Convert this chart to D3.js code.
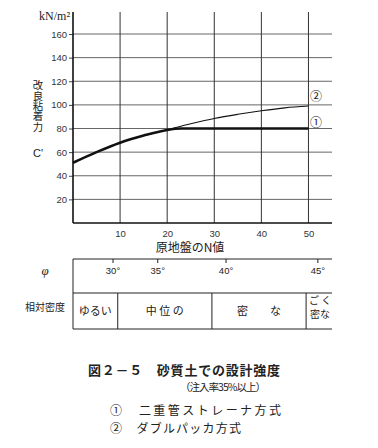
<!DOCTYPE html>
<html><head><meta charset="utf-8">
<script src="https://cdn.jsdelivr.net/npm/d3@7"></script>
<style>
body{margin:0;background:#fff;}
svg{display:block;}
text{font-family:"Noto Sans CJK JP","Noto Sans",sans-serif;fill:#222;}
.num{font-family:"Liberation Sans",Arial,sans-serif;}
</style></head>
<body>
<script>
// ---- data ----
const nValues = [0, 5, 10, 15, 20, 25, 30, 35, 40, 45, 50];
const doublePacker = [51, 60, 68, 74, 79, 84, 88.5, 92, 95, 97.5, 99];      // ②
const nValuesStrainer = [0, 5, 10, 15, 20, 23, 30, 40, 50];
const doubleStrainer = [51, 60, 68, 74, 78.8, 80, 80, 80, 80];            // ①
const xTicks = [10, 20, 30, 40, 50];
const yTicks = [20, 40, 60, 80, 100, 120, 140, 160];
const phiLabels = ["30°", "35°", "40°", "45°"];
const phiAtN = [8.5, 18, 32.5, 52];
const densityLabels = [["ゆるい"], ["中 位 の"], ["密　　な"], ["ご く", "密な"]];
const densityBounds = [0, 9.5, 29.5, 49.5, 55];

const W = 378, H = 448;
const svg = d3.select("body").append("svg").attr("width", W).attr("height", H);

const x = d3.scaleLinear().domain([0, 55]).range([73, 332]);
const y = d3.scaleLinear().domain([0, 160]).range([223, 34]);
const topY = 12;

// grid
const g = svg.append("g");
g.selectAll("line.h").data(yTicks).join("line")
  .attr("x1", x(0)).attr("x2", x(55))
  .attr("y1", d => y(d)).attr("y2", d => y(d))
  .attr("stroke", "#555").attr("stroke-width", 0.9);
g.selectAll("line.v").data(xTicks).join("line")
  .attr("x1", d => x(d)).attr("x2", d => x(d))
  .attr("y1", topY).attr("y2", y(0))
  .attr("stroke", "#333").attr("stroke-width", 1);

// axes
const yAxis = d3.axisLeft(y).tickValues(yTicks).tickSize(4).tickPadding(2);
const ya = svg.append("g").attr("transform", `translate(${x(0)},0)`).call(yAxis);
ya.select(".domain").remove();
ya.selectAll("text").attr("class", "num").style("font-size", "9.5px").style("fill", "#333");
ya.selectAll("line").attr("stroke", "#444");
svg.append("line").attr("x1", x(0)).attr("x2", x(0)).attr("y1", topY).attr("y2", y(0))
  .attr("stroke", "#111").attr("stroke-width", 1.6);

const xAxis = d3.axisBottom(x).tickValues(xTicks).tickSize(0).tickPadding(7);
const xa = svg.append("g").attr("transform", `translate(0,${y(0)})`).call(xAxis);
xa.select(".domain").remove();
xa.selectAll("text").attr("class", "num").style("font-size", "9.5px").style("fill", "#333");
svg.append("line").attr("x1", x(0)).attr("x2", x(55)).attr("y1", y(0)).attr("y2", y(0))
  .attr("stroke", "#111").attr("stroke-width", 1.6);

// unit and axis titles
svg.append("text").attr("x", 70).attr("y", 20).attr("text-anchor", "end")
  .style("font-family", "'Liberation Serif',serif")
  .style("font-size", "12px").text("kN/m²");
svg.append("text").attr("x", 38).attr("y", 80)
  .style("writing-mode", "vertical-rl").style("font-size", "10.4px")
  .text("改良粘着力");
svg.append("text").attr("x", 38).attr("y", 157).attr("text-anchor", "middle")
  .style("font-size", "11px").style("font-family", "'Liberation Sans',sans-serif").text("C'");
svg.append("text").attr("x", 190).attr("y", 252).attr("text-anchor", "middle")
  .style("font-size", "12px").text("原地盤のN値");

// curves
const line = d3.line().curve(d3.curveMonotoneX);
svg.append("path")
  .attr("d", line(nValues.map((n, i) => [x(n), y(doublePacker[i])])))
  .attr("fill", "none").attr("stroke", "#111").attr("stroke-width", 1.1);
svg.append("path")
  .attr("d", line(nValuesStrainer.map((n, i) => [x(n), y(doubleStrainer[i])])))
  .attr("fill", "none").attr("stroke", "#111").attr("stroke-width", 2.6);

svg.append("text").attr("x", 316).attr("y", 101).attr("text-anchor", "middle")
  .style("font-size", "12px").text("②");
svg.append("text").attr("x", 316).attr("y", 127).attr("text-anchor", "middle")
  .style("font-size", "12px").text("①");

// table
const tTop = 259, tMid = 293, tBot = 329;
const tb = svg.append("g").attr("stroke", "#222").attr("stroke-width", 1);
tb.append("line").attr("x1", x(0)).attr("x2", x(55)).attr("y1", tTop).attr("y2", tTop);
tb.append("line").attr("x1", x(0)).attr("x2", x(55)).attr("y1", tMid).attr("y2", tMid);
tb.append("line").attr("x1", x(0)).attr("x2", x(55)).attr("y1", tBot).attr("y2", tBot);
tb.append("line").attr("x1", x(0)).attr("x2", x(0)).attr("y1", tTop).attr("y2", tBot);
tb.selectAll("line.d").data(densityBounds.slice(1, 4)).join("line")
  .attr("x1", d => x(d)).attr("x2", d => x(d)).attr("y1", tMid).attr("y2", tBot);
tb.selectAll("line.p").data(phiAtN).join("line")
  .attr("x1", d => x(d)).attr("x2", d => x(d)).attr("y1", tTop).attr("y2", tTop + 4);

svg.selectAll("text.phi").data(phiLabels).join("text")
  .attr("class", "num").attr("x", (d, i) => x(phiAtN[i])).attr("y", tTop + 15)
  .attr("text-anchor", "middle").style("font-size", "9.5px").text(d => d);
svg.append("text").attr("x", 45).attr("y", 275).attr("text-anchor", "middle")
  .style("font-family", "'Liberation Serif',serif").style("font-style", "italic")
  .style("font-size", "13px").text("φ");
svg.append("text").attr("x", 45).attr("y", 311).attr("text-anchor", "middle")
  .style("font-size", "10px").text("相対密度");

densityLabels.forEach((lines, i) => {
  const cx = (x(densityBounds[i]) + x(densityBounds[i + 1])) / 2;
  lines.forEach((t, j) => {
    const yy = lines.length === 1 ? 315 : 304 + j * 14;
    svg.append("text").attr("x", cx + (lines.length > 1 ? 1 : 0)).attr("y", yy)
      .attr("text-anchor", "middle").style("font-size", lines.length > 1 ? "10px" : "11px").text(t);
  });
});

// caption
svg.append("text").attr("x", 88).attr("y", 375).attr("textLength", 192)
  .style("font-size", "13px").style("font-weight", "bold").text("図２－５　砂質土での設計強度");
svg.append("text").attr("x", 180).attr("y", 391).attr("textLength", 86)
  .style("font-size", "10.5px").text("（注入率35%以上）");
svg.append("text").attr("x", 110).attr("y", 415).attr("textLength", 171)
  .style("font-size", "12px").text("①　二重管ストレーナ方式");
svg.append("text").attr("x", 110).attr("y", 433).attr("textLength", 131)
  .style("font-size", "12px").text("②　ダブルパッカ方式");
</script>
</body></html>
